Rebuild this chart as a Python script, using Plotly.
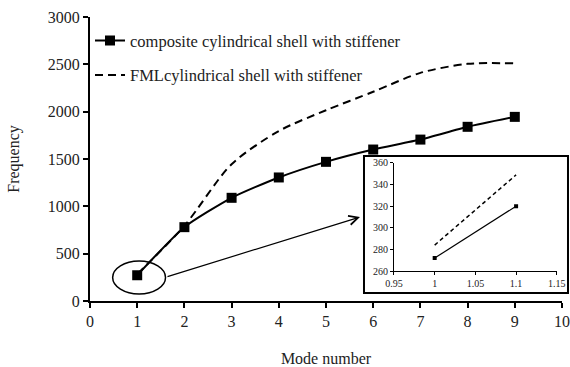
import plotly.graph_objects as go

# Main chart data
modes = [1, 2, 3, 4, 5, 6, 7, 8, 9]
composite = [272, 780, 1090, 1305, 1470, 1600, 1705, 1840, 1945]
fml = [283, 795, 1445, 1795, 2015, 2210, 2410, 2505, 2510]

# Inset data
inset_x = [1, 1.1]
inset_composite = [272, 320]
inset_fml = [284, 349]

# Axis tick labels
x_ticks = list(range(0, 11))
y_ticks = [0, 500, 1000, 1500, 2000, 2500, 3000]
inset_x_ticks = [0.95, 1, 1.05, 1.1, 1.15]
inset_x_labels = ["0.95", "1", "1.05", "1.1", "1.15"]
inset_y_ticks = [260, 280, 300, 320, 340, 360]

FONT = "Liberation Serif, Times New Roman, serif"

fig = go.Figure()

fig.add_trace(go.Scatter(
    x=modes, y=composite, mode="lines+markers",
    name="composite cylindrical shell with stiffener",
    line=dict(color="black", width=2, shape="spline", smoothing=0.6),
    marker=dict(symbol="square", size=10, color="black"),
    legendgroup="a",
))
fig.add_trace(go.Scatter(
    x=modes, y=fml, mode="lines",
    name="FMLcylindrical shell with stiffener",
    line=dict(color="black", width=2, dash="8px,5px", shape="spline", smoothing=0.8),
    legendgroup="b",
))

# Inset traces
fig.add_trace(go.Scatter(
    x=inset_x, y=inset_composite, mode="lines+markers", xaxis="x2", yaxis="y2",
    line=dict(color="black", width=1.2),
    marker=dict(symbol="square", size=4, color="black"),
    showlegend=False,
))
fig.add_trace(go.Scatter(
    x=inset_x, y=inset_fml, mode="lines", xaxis="x2", yaxis="y2",
    line=dict(color="black", width=1.5, dash="4px,3px"),
    showlegend=False,
))

axis_common = dict(showgrid=False, zeroline=False, showline=True, linecolor="black",
                   ticks="outside", tickcolor="black", automargin=False)

fig.update_layout(
    width=570, height=367,
    margin=dict(l=90, r=8, t=17, b=66),
    paper_bgcolor="white", plot_bgcolor="white",
    font=dict(family=FONT, size=16, color="#222"),
    xaxis=dict(range=[0, 10], tickvals=x_ticks, linewidth=2, tickwidth=2, ticklen=5,
               title=dict(text="Mode number", font=dict(size=16), standoff=24),
               **axis_common),
    yaxis=dict(range=[0, 3000], tickvals=y_ticks, linewidth=2, tickwidth=2, ticklen=5,
               title=dict(text="Frequency", font=dict(size=16), standoff=24),
               **axis_common),
    xaxis2=dict(domain=[0.644, 0.989], anchor="y2", range=[0.95, 1.15],
                tickvals=inset_x_ticks, ticktext=inset_x_labels, linewidth=1, tickwidth=1,
                ticklen=3, tickfont=dict(size=10), **axis_common),
    yaxis2=dict(domain=[0.1056, 0.486], anchor="x2", range=[260, 360],
                tickvals=inset_y_ticks, linewidth=1, tickwidth=1, ticklen=3,
                tickfont=dict(size=10), **axis_common),
    showlegend=True,
    legend=dict(x=0.0, y=0.978, xanchor="left", yanchor="top",
                bgcolor="rgba(0,0,0,0)", font=dict(size=16.5, color="#222"),
                traceorder="grouped", tracegroupgap=10),
    shapes=[
        dict(type="rect", xref="paper", yref="paper", x0=0.5805, x1=1.0127,
             y0=0.028, y1=0.5106, line=dict(color="black", width=2),
             fillcolor="white", layer="below"),
        dict(type="circle", xref="x", yref="y", x0=0.48, x1=1.6, y0=74, y1=422,
             line=dict(color="black", width=1.5)),
    ],
    annotations=[
        dict(x=5.72, y=887, ax=1.61, ay=253, xref="x", yref="y", axref="x", ayref="y",
             showarrow=True, arrowhead=5, arrowsize=1.5, arrowwidth=1.2,
             arrowcolor="black", text=""),
    ],
)

fig.write_html("out.html")
